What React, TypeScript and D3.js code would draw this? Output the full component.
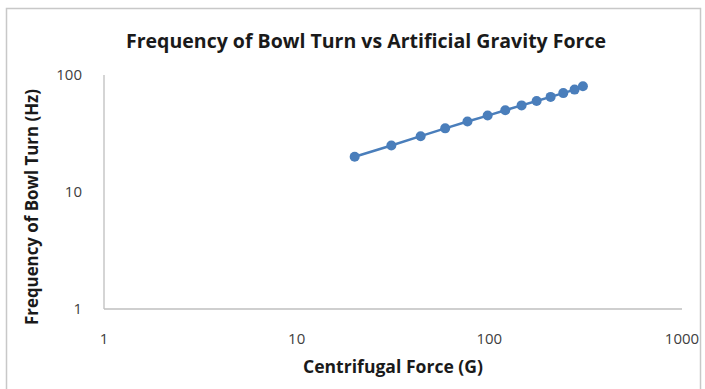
import React from "react";
import * as d3 from "d3";

const forceG = [20, 31, 44, 59, 77, 98, 121, 147, 176, 208, 242, 277, 306];
const freqHz = [20, 25, 30, 35, 40, 45, 50, 55, 60, 65, 70, 75, 80];
const xTicks = [1, 10, 100, 1000];
const yTicks = [1, 10, 100];
const title = "Frequency of Bowl Turn vs Artificial Gravity Force";
const xTitle = "Centrifugal Force (G)";
const yTitle = "Frequency of Bowl Turn (Hz)";

const W = 705;
const H = 389;
const FONT = "'Open Sans', 'Noto Sans', sans-serif";

export default function App() {
  const x = d3.scaleLog().domain([1, 1000]).range([104, 682]);
  const y = d3.scaleLog().domain([1, 100]).range([309, 75]);
  const pts = forceG.map((g, i) => [g, freqHz[i]] as [number, number]);
  const line = d3
    .line<[number, number]>()
    .x((d) => x(d[0]))
    .y((d) => y(d[1]));
  const blue = "#4a7ebb";
  return (
    <svg
      width={W}
      height={H}
      style={{ position: "absolute", left: 0, top: 0, background: "#fff" }}
      fontFamily={FONT}
    >
      <rect x={0} y={0} width={W} height={H} fill="#fff" />
      <rect x={6.5} y={8.5} width={694} height={390} fill="#fff" stroke="#c8c8c8" strokeWidth={1.5} />
      <text
        x={366}
        y={48}
        textAnchor="middle"
        fontSize={19}
        fontWeight="bold"
        fill="#1a1a1a"
        textLength={480}
        lengthAdjust="spacingAndGlyphs"
      >
        {title}
      </text>
      {/* axes */}
      <line x1={x(1)} x2={x(1)} y1={y(100)} y2={y(1)} stroke="#bfbfbf" strokeWidth={1.3} />
      <line x1={x(1)} x2={x(1000)} y1={y(1)} y2={y(1)} stroke="#bfbfbf" strokeWidth={1.3} />
      {yTicks.map((t) => (
        <text key={"y" + t} x={82} y={y(t) + 5} textAnchor="end" fontSize={15} fill="#404040">
          {t}
        </text>
      ))}
      {xTicks.map((t) => (
        <text key={"x" + t} x={x(t)} y={344} textAnchor="middle" fontSize={15} fill="#404040">
          {t}
        </text>
      ))}
      <text
        x={393}
        y={373}
        textAnchor="middle"
        fontSize={17}
        fontWeight="bold"
        fill="#1a1a1a"
        textLength={180}
        lengthAdjust="spacingAndGlyphs"
      >
        {xTitle}
      </text>
      <text
        transform={`translate(38,207) rotate(-90)`}
        textAnchor="middle"
        fontSize={17}
        fontWeight="bold"
        fill="#1a1a1a"
        textLength={236}
        lengthAdjust="spacingAndGlyphs"
      >
        {yTitle}
      </text>
      <path d={line(pts) || ""} fill="none" stroke={blue} strokeWidth={2.5} />
      {pts.map((p, i) => (
        <circle key={i} cx={x(p[0])} cy={y(p[1])} r={5} fill={blue} />
      ))}
    </svg>
  );
}
